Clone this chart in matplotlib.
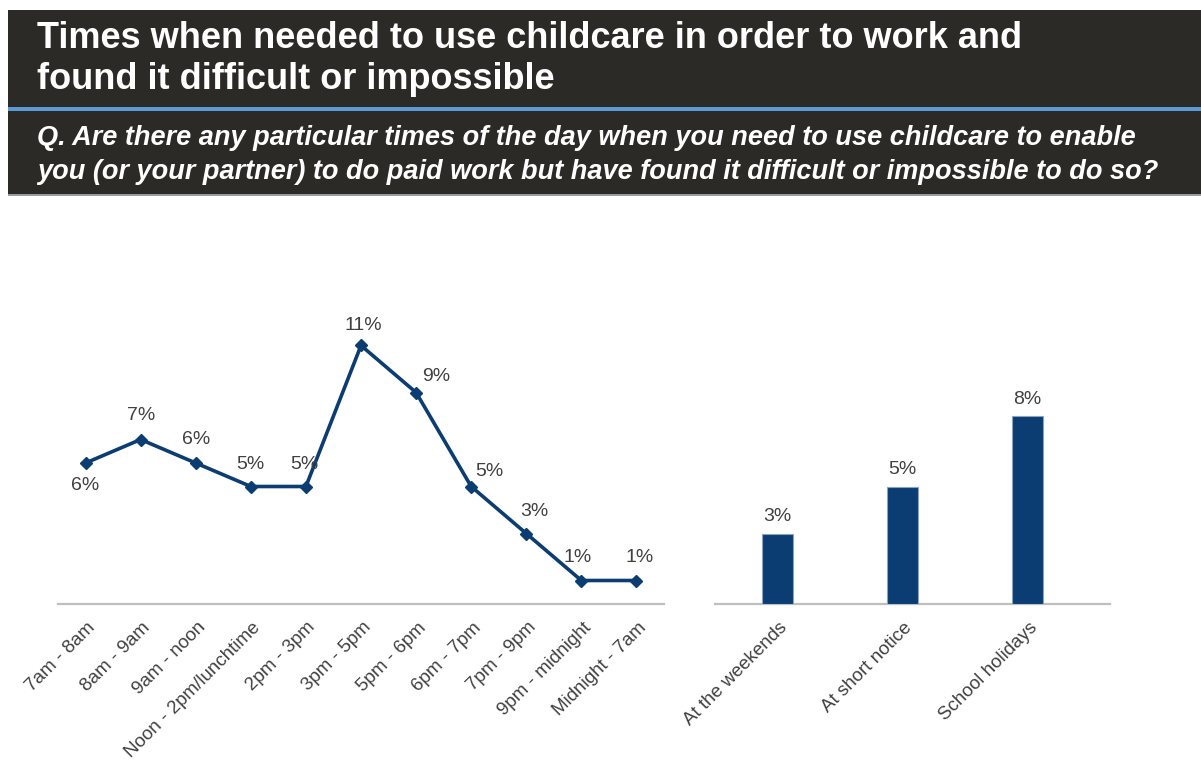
import matplotlib
matplotlib.use('Agg')
from matplotlib import pyplot as plt
from matplotlib.patches import Rectangle
import matplotlib.transforms as mtransforms

# data
time_slots = ['7am - 8am', '8am - 9am', '9am - noon', 'Noon - 2pm/lunchtime', '2pm - 3pm',
              '3pm - 5pm', '5pm - 6pm', '6pm - 7pm', '7pm - 9pm', '9pm - midnight', 'Midnight - 7am']
time_pct = [6, 7, 6, 5, 5, 11, 9, 5, 3, 1, 1]
other_times = ['At the weekends', 'At short notice', 'School holidays']
other_pct = [3, 5, 8]

title = 'Times when needed to use childcare in order to work and\nfound it difficult or impossible'
question = ('Q. Are there any particular times of the day when you need to use childcare to enable\n'
            'you (or your partner) to do paid work but have found it difficult or impossible to do so?')

navy = '#0b3d72'
grey_txt = '#404040'
W, H = 1201, 762
my_dpi = 100
plt.rcParams['font.family'] = ['Liberation Sans', 'DejaVu Sans']

fig = plt.figure(figsize=(W / my_dpi, H / my_dpi), dpi=my_dpi)

# header boxes
fig.patches.append(Rectangle((8 / W, 1 - 196 / H), 1, 186 / H, transform=fig.transFigure,
                             facecolor='#2b2a26', edgecolor='none', zorder=0))
fig.patches.append(Rectangle((8 / W, 1 - 196 / H), 1, 2 / H, transform=fig.transFigure,
                             facecolor='#9a9a9a', edgecolor='none', zorder=1))
fig.patches.append(Rectangle((8 / W, 1 - 111 / H), 1, 4 / H, transform=fig.transFigure,
                             facecolor='#5b9bd5', edgecolor='none', zorder=1))
fig.text(37 / W, 1 - 59 / H, title, color='white', fontsize=26, fontweight='bold',
         ha='left', va='center', linespacing=1.24)
fig.text(37 / W, 1 - 155 / H, question, color='white', fontsize=19.5, fontweight='bold',
         style='italic', ha='left', va='center', linespacing=1.42)

# line chart
ax1 = fig.add_axes([58 / W, (H - 604) / H, 606 / W, 282 / H])
x = list(range(len(time_slots)))
ax1.plot(x, time_pct, color=navy, lw=2.6, marker='D', ms=6.5, zorder=3)
ax1.set_xlim(-0.5, len(time_slots) - 0.5)
ax1.set_ylim(0, 12)
offsets = [(0, -22), (0, 24), (0, 23), (0, 22), (-2, 22), (2, 20),
           (20, 16), (18, 15), (8, 22), (-4, 23), (3, 23)]
for xi, v, off in zip(x, time_pct, offsets):
    ax1.annotate(f'{v}%', (xi, v), xytext=off, textcoords='offset pixels',
                 ha='center', va='center', fontsize=14, color=grey_txt)

# bar chart
ax2 = fig.add_axes([715 / W, (H - 604) / H, 395 / W, 282 / H])
xb = list(range(len(other_times)))
ax2.bar(xb, other_pct, width=0.25, color=navy, edgecolor='#8aa3c0', linewidth=0.8, zorder=3)
ax2.set_xlim(-0.5, 2.66)
ax2.set_ylim(0, 12)
for xi, v in zip(xb, other_pct):
    ax2.annotate(f'{v}%', (xi, v), xytext=(0, 17), textcoords='offset pixels',
                 ha='center', va='center', fontsize=14, color=grey_txt)

for ax, labels, xs in [(ax1, time_slots, x), (ax2, other_times, xb)]:
    for s in ['top', 'right', 'left']:
        ax.spines[s].set_visible(False)
    ax.spines['bottom'].set_color('#bfbfbf')
    ax.spines['bottom'].set_linewidth(1.6)
    ax.set_yticks([])
    ax.set_xticks(xs)
    ax.set_xticklabels(labels, rotation=45, ha='right', va='center',
                       rotation_mode='anchor', fontsize=13.5, color=grey_txt)
    ax.tick_params(axis='x', length=0, pad=0)
    shift = mtransforms.ScaledTranslation(7 / my_dpi, -21 / my_dpi, fig.dpi_scale_trans)
    for lab in ax.get_xticklabels():
        lab.set_transform(lab.get_transform() + shift)

fig.savefig('out.png', dpi=my_dpi)
